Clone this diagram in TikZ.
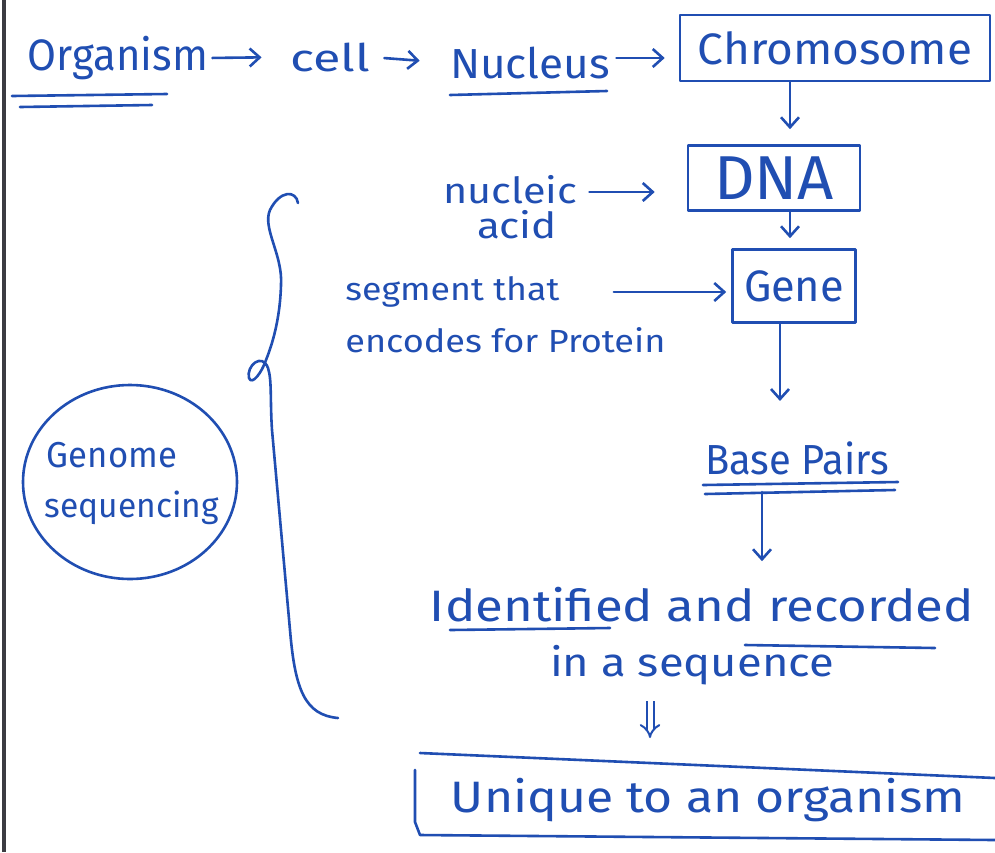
\documentclass[tikz,border=0pt]{standalone}
\usepackage{fontspec}
\setmainfont{Fira Sans}
\usepackage{graphicx}
\usetikzlibrary{arrows.meta,shapes.geometric}
\definecolor{ink}{RGB}{32,78,178}
\definecolor{pageedge}{RGB}{60,60,66}
% set a word at a font size, stretched to a given width
\newcommand\inkw[3]{\resizebox{#1}{\height}{\fontsize{#2}{#2}\selectfont #3}}
\begin{document}
\begin{tikzpicture}[x=0.5pt,y=-0.5pt,
  inkline/.style={draw=ink, line width=1.3pt, line cap=round, line join=round},
  arr/.style={inkline, -{Straight Barb[length=5pt,width=9pt]}},
  word/.style={text=ink, inner sep=0pt},
  box/.style={inkline, text=ink, inner sep=0pt}]
\useasboundingbox (0,0) rectangle (995,852);
\fill[white] (0,0) rectangle (995,852);
\draw[pageedge, line width=2pt] (4,0) -- (4,852);

% top row
\node[word] (org) at (118,58) {\inkw{90pt}{22pt}{Organism}};
\node[word] (cell) at (330,57) {\inkw{40pt}{19pt}{cell}};
\node[word] (nuc) at (530,63) {\inkw{80pt}{21pt}{Nucleus}};
\node[box, minimum width=155pt, minimum height=33pt] (chr) at (835,48) {};
\node[word] at (chr) {\inkw{137pt}{22pt}{Chromosome}};

\draw[inkline] (12,96) -- (167,94);
\draw[inkline] (20,107) -- (152,105);
\draw[inkline] (450,95) -- (607,91);

\draw[arr, shorten <=2pt, shorten >=14pt] (org.east) -- (cell.west);
\draw[arr, shorten <=7pt, shorten >=15pt] (cell.east) -- (nuc.west);
\draw[arr, shorten <=3pt, shorten >=7pt] ([yshift=2.5pt]nuc.east) -- ([yshift=2.5pt]nuc.east -| chr.west);

% DNA and gene
\node[box, minimum width=86pt, minimum height=32.5pt] (dna) at (774,178) {\inkw{60pt}{31pt}{DNA}};
\node[box, minimum width=61.5pt, minimum height=36.5pt] (gene) at (794,286) {\inkw{50pt}{22pt}{Gene}};

\draw[arr, shorten >=7.5pt] ([xshift=8pt]dna.north |- chr.south) -- ([xshift=8pt]dna.north);
\draw[arr, shorten >=5pt] ([xshift=8pt]dna.south) -- ([xshift=8pt]dna.south |- gene.north);

\node[word] (nucleic) at (510,190) {\inkw{67pt}{18pt}{nucleic}};
\node[word] (acid) at (517,225) {\inkw{40pt}{18pt}{acid}};
\draw[arr, shorten <=6pt, shorten >=16pt] ([yshift=-1pt]nucleic.east) -- ([yshift=-1pt]nucleic.east -| dna.west);

\node[word, anchor=west] (seg) at (345,292) {\inkw{107pt}{16pt}{segment that}};
\node[word, anchor=west] (enc) at (345,340) {\inkw{160pt}{16pt}{encodes for Protein}};
\draw[arr, shorten <=27pt, shorten >=2.5pt] (seg.east) -- (seg.east -| gene.west);

% base pairs
\node[word] (bp) at (797,458) {\inkw{92pt}{21pt}{Base Pairs}};
\draw[inkline] (703,485) -- (898,482);
\draw[inkline] (705,494) -- (895,490);
\draw[arr, shorten >=20pt] ([xshift=-7pt]gene.south) -- ([xshift=-7pt]gene.south |- bp.north);

% identified and recorded
\node[word] (idr) at (702,605) {\inkw{272pt}{22pt}{Identified and recorded}};
\node[word] (seq) at (692,665) {\inkw{142pt}{20pt}{in a sequence}};
\draw[inkline] (450,630) -- (610,628);
\draw[inkline] (745,645) -- (935,648);
\coordinate (bpu) at (762,492);
\draw[arr, shorten >=13pt] (bpu) -- (bpu |- idr.north);

% unique box
\node[word] (uniq) at (708,800) {\inkw{257pt}{22pt}{Unique to an organism}};
\draw[inkline] (420,753) -- (995,778);
\draw[inkline] (415,770) -- (415,822) -- (420,835) -- (995,840);
\coordinate (utop) at (650,762);
\draw[draw=ink, line width=1pt, double=white, double distance=2.5pt, -{Implies}, shorten <=8pt, shorten >=12pt] (seq.south -| utop) -- (utop);

% genome sequencing
\node[inkline, ellipse, minimum width=107pt, minimum height=97pt] (gs) at (130,482) {};
\node[word] (gen) at (112,455) {\inkw{65pt}{18pt}{Genome}};
\node[word] (seqc) at (132,508) {\inkw{87pt}{17pt}{sequencing}};

% brace
\draw[inkline] (298,203) .. controls (296,190) and (280,190) .. (270,210)
  .. controls (262,228) and (283,255) .. (281,285)
  .. controls (280,320) and (272,345) .. (266,360)
  .. controls (262,372) and (252,386) .. (249,378)
  .. controls (246,366) and (262,352) .. (268,368)
  .. controls (272,380) and (270,400) .. (272,430)
  -- (290,630) .. controls (295,690) and (305,715) .. (338,718);
\end{tikzpicture}
\end{document}
